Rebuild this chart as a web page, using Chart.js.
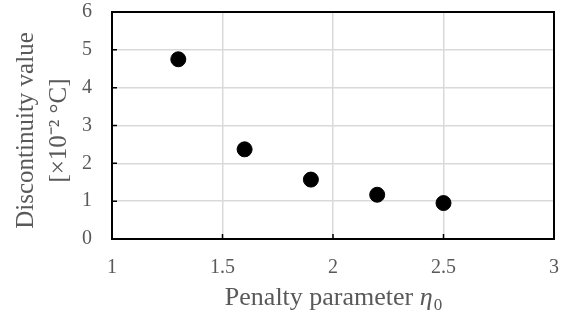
<!DOCTYPE html>
<html>
<head>
<meta charset="utf-8">
<script src="https://cdn.jsdelivr.net/npm/chart.js@4/dist/chart.umd.min.js"></script>
<style>
  html, body { margin: 0; padding: 0; background: #fff; }
  #wrap { width: 568px; height: 325px; }
</style>
</head>
<body>
<div id="wrap"><canvas id="chart"></canvas></div>
<script>
  // penalty parameter eta_0 and discontinuity value [x10^-2 degC]
  const etaValues = [1.3, 1.6, 1.9, 2.2, 2.5];
  const discontinuity = [4.75, 2.37, 1.57, 1.17, 0.95];
  const xTicks = [1, 1.5, 2, 2.5, 3];
  const yTicks = [0, 1, 2, 3, 4, 5, 6];
  const yTitle = ["Discontinuity value", "[×10⁻² °C]"];
  const xTitle = ["Penalty parameter ", "η", "0"];

  const textColor = "#595959";
  const fontFamily = "'Liberation Serif', 'Times New Roman', serif";

  // box around plot, short inward tick marks and the axis titles
  const frame = {
    id: "frame",
    afterDatasetsDraw(chart) {
      const { ctx, chartArea: a, scales: { x, y } } = chart;
      ctx.save();
      ctx.strokeStyle = "#000";
      ctx.lineWidth = 1.5;
      ctx.beginPath();
      xTicks.slice(1, -1).forEach(v => {
        const px = x.getPixelForValue(v);
        ctx.moveTo(px, a.bottom);
        ctx.lineTo(px, a.bottom - 5);
      });
      yTicks.slice(1, -1).forEach(v => {
        const py = y.getPixelForValue(v);
        ctx.moveTo(a.left, py);
        ctx.lineTo(a.left + 5, py);
      });
      ctx.stroke();
      ctx.lineWidth = 2;
      ctx.strokeRect(a.left, a.top, a.right - a.left, a.bottom - a.top);

      ctx.fillStyle = textColor;
      // x title: "Penalty parameter" + italic eta + subscript 0
      const fNorm = "26px " + fontFamily, fIt = "italic 26px " + fontFamily, fSub = "17px " + fontFamily;
      ctx.font = fNorm; const w1 = ctx.measureText(xTitle[0]).width;
      ctx.font = fIt; const w2 = ctx.measureText(xTitle[1]).width;
      ctx.font = fSub; const w3 = ctx.measureText(xTitle[2]).width;
      let tx = (a.left + a.right) / 2 - (w1 + w2 + w3) / 2;
      const ty = a.bottom + 66;
      ctx.textBaseline = "alphabetic";
      ctx.textAlign = "left";
      ctx.font = fNorm; ctx.fillText(xTitle[0], tx, ty); tx += w1;
      ctx.font = fIt; ctx.fillText(xTitle[1], tx, ty); tx += w2 + 1;
      ctx.font = fSub; ctx.fillText(xTitle[2], tx, ty + 5);

      // y title: two rotated lines
      ctx.font = "25px " + fontFamily;
      ctx.textAlign = "center";
      ctx.translate(0, (a.top + a.bottom) / 2 + 5);
      ctx.rotate(-Math.PI / 2);
      ctx.fillText(yTitle[0], 0, 33);
      ctx.fillText(yTitle[1], 0, 66);
      ctx.restore();
    }
  };

  new Chart(document.getElementById("chart"), {
    type: "scatter",
    data: {
      datasets: [{
        data: etaValues.map((v, i) => ({ x: v, y: discontinuity[i] })),
        backgroundColor: "#000",
        borderColor: "#000",
        pointRadius: 7.5,
        pointHoverRadius: 7.5
      }]
    },
    options: {
      responsive: true,
      maintainAspectRatio: false,
      animation: false,
      layout: { autoPadding: false, padding: { top: 12, right: 14, left: 82, bottom: 45 } },
      plugins: { legend: { display: false }, tooltip: { enabled: false } },
      scales: {
        x: {
          type: "linear",
          min: 1,
          max: 3,
          afterBuildTicks: s => { s.ticks = xTicks.map(v => ({ value: v })); },
          // transparent tick marks only make the gap below the axis
          grid: { color: "#d9d9d9", lineWidth: 1.5, tickLength: 17, tickColor: "rgba(0,0,0,0)" },
          border: { display: false },
          ticks: {
            color: textColor, padding: 0,
            font: { family: fontFamily, size: 20, lineHeight: 1.2 },
            callback: v => String(v)
          }
        },
        y: {
          min: 0,
          max: 6,
          afterBuildTicks: s => { s.ticks = yTicks.map(v => ({ value: v })); },
          grid: { color: "#d9d9d9", lineWidth: 1.5, tickLength: 20, tickColor: "rgba(0,0,0,0)" },
          border: { display: false },
          ticks: {
            color: textColor, padding: 0,
            font: { family: fontFamily, size: 20, lineHeight: 1 },
            callback: v => String(v)
          }
        }
      }
    },
    plugins: [frame]
  });
</script>
</body>
</html>
